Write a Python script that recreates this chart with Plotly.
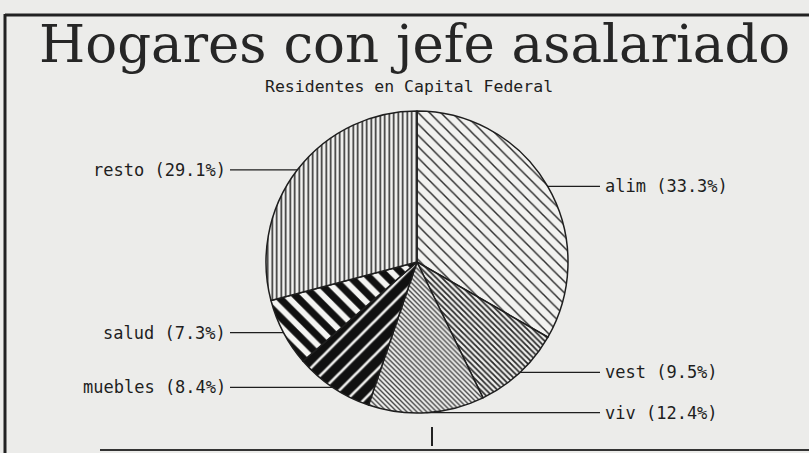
import math
import plotly.graph_objects as go

# ---- data ----
categories = ["alim", "vest", "viv", "muebles", "salud", "resto"]
shares = [33.3, 9.5, 12.4, 8.4, 7.3, 29.1]
title_text = "Hogares con jefe asalariado"
subtitle_text = "Residentes en Capital Federal"

# ---- styling / layout ----
W, H = 809, 453
CX, CY, R = 417, 262, 151           # pie centre / radius in pixels
BG = "#ececea"
INK = "#1e1e1e"

pattern = dict(
    shape=["\\", "\\", "\\", "/", "\\", "|"],
    size=[8, 4, 3.5, 12, 13, 4.5],
    solidity=[0.18, 0.45, 0.40, 0.22, 0.55, 0.35],
    fgcolor=["#2a2a2a", "#2a2a2a", "#444444", "#f2f2f0", "#111111", "#2a2a2a"],
    bgcolor=["#f2f2f0", "#efefed", "#efefed", "#111111", "#f4f4f2", "#f2f2f0"],
    fillmode="replace",
)

fig = go.Figure(go.Pie(
    labels=categories,
    values=shares,
    sort=False,
    direction="clockwise",
    rotation=0,
    textinfo="none",
    hoverinfo="label+percent",
    marker=dict(colors=["#f2f2f0"] * 6, line=dict(color=INK, width=1.5), pattern=pattern),
    domain=dict(x=[(CX - R) / W, (CX + R) / W],
                y=[(H - CY - R) / H, (H - CY + R) / H]),
    showlegend=False,
))

shapes = []
annotations = []

RIGHT_LINE_END = 600
RIGHT_TEXT_X = 603
LEFT_LINE_START = 230
LEFT_TEXT_X = 228

total = sum(shares)
cum = 0.0
for name, v in zip(categories, shares):
    mid = (cum + v / 2) / total * 2 * math.pi
    cum += v
    ex = CX + R * math.sin(mid)
    ey = CY - R * math.cos(mid)
    label = f"{name} ({v:.1f}%)"
    if math.sin(mid) > 0:
        x0, x1, tx, anchor = ex, RIGHT_LINE_END, RIGHT_TEXT_X, "left"
    else:
        x0, x1, tx, anchor = LEFT_LINE_START, ex, LEFT_TEXT_X, "right"
    shapes.append(dict(type="line", xref="paper", yref="paper",
                       x0=x0 / W, x1=x1 / W, y0=1 - ey / H, y1=1 - ey / H,
                       line=dict(color=INK, width=1.3)))
    annotations.append(dict(x=tx / W, y=1 - ey / H, xref="paper", yref="paper",
                            text=label, showarrow=False, xanchor=anchor, yanchor="middle",
                            font=dict(family="DejaVu Sans Mono", size=17, color=INK)))

# title and subtitle
annotations.append(dict(x=415 / W, y=1 - 43 / H, xref="paper", yref="paper",
                        text=title_text, showarrow=False, xanchor="center", yanchor="middle",
                        font=dict(family="DejaVu Serif", size=53, color="#262626")))
annotations.append(dict(x=409 / W, y=1 - 87 / H, xref="paper", yref="paper",
                        text=subtitle_text, showarrow=False, xanchor="center", yanchor="middle",
                        font=dict(family="DejaVu Sans Mono", size=16.5, color=INK)))

# frame
shapes += [
    dict(type="line", xref="paper", yref="paper", x0=5 / W, x1=1, y0=1 - 15 / H, y1=1 - 15 / H,
         line=dict(color="#222", width=3)),
    dict(type="line", xref="paper", yref="paper", x0=5 / W, x1=5 / W, y0=1 - 14 / H, y1=0,
         line=dict(color="#222", width=3)),
    dict(type="line", xref="paper", yref="paper", x0=100 / W, x1=1, y0=1 - 450 / H, y1=1 - 450 / H,
         line=dict(color="#333", width=2)),
    dict(type="line", xref="paper", yref="paper", x0=432 / W, x1=432 / W, y0=1 - 427 / H, y1=1 - 446 / H,
         line=dict(color="#222", width=2)),
]

fig.update_layout(
    width=W, height=H,
    margin=dict(l=0, r=0, t=0, b=0),
    paper_bgcolor=BG, plot_bgcolor=BG,
    shapes=shapes, annotations=annotations,
)

fig.write_html("out.html",
               config={"displayModeBar": False},
               post_script="document.body.style.margin='0';document.body.style.overflow='hidden';")
